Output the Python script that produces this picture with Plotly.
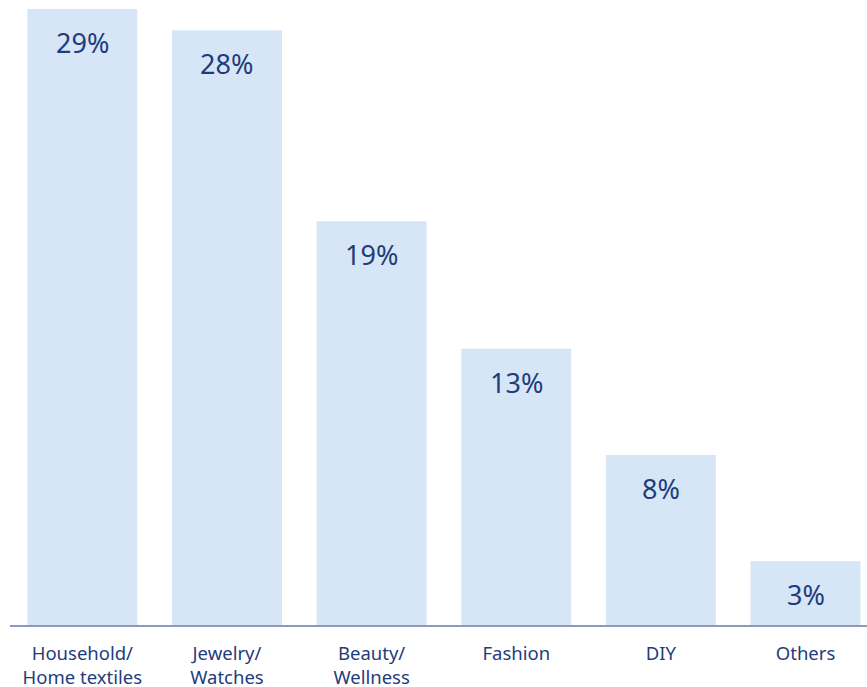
import plotly.graph_objects as go

categories = ["Household/<br>Home textiles", "Jewelry/<br>Watches", "Beauty/<br>Wellness",
              "Fashion", "DIY", "Others"]
shares = [29, 28, 19, 13, 8, 3]
share_labels = [f"{v}%" for v in shares]

BAR_COLOR = "#D6E6F7"
TEXT_COLOR = "#1F3C7C"
AXIS_COLOR = "#8E9BB8"
FONT = "Noto Sans, Open Sans, sans-serif"

fig = go.Figure(
    go.Bar(
        x=list(range(len(categories))),
        y=shares,
        marker=dict(color=BAR_COLOR, line=dict(width=0)),
        width=0.76,
        hoverinfo="skip",
    )
)

# value labels sit just inside the top of each bar
for i, (v, lab) in enumerate(zip(shares, share_labels)):
    fig.add_annotation(
        x=i, y=v, text=lab, showarrow=False,
        yanchor="top", yshift=-13,
        font=dict(family=FONT, size=27, color=TEXT_COLOR),
    )

fig.update_layout(
    width=867, height=687,
    margin=dict(l=10, r=0, t=0, b=62),
    paper_bgcolor="white", plot_bgcolor="white",
    showlegend=False,
    bargap=0.24,
)
fig.update_xaxes(
    range=[-0.5, 5.425],
    tickmode="array", tickvals=list(range(len(categories))), ticktext=categories,
    tickfont=dict(family=FONT, size=18.5, color=TEXT_COLOR),
    showline=True, linecolor=AXIS_COLOR, linewidth=2,
    showgrid=False, zeroline=False, ticks="",
    ticklabelstandoff=11, automargin=False,
)
fig.update_yaxes(
    range=[0, 29.42], visible=False, showgrid=False, zeroline=False,
    automargin=False,
)

fig.write_html("out.html")
